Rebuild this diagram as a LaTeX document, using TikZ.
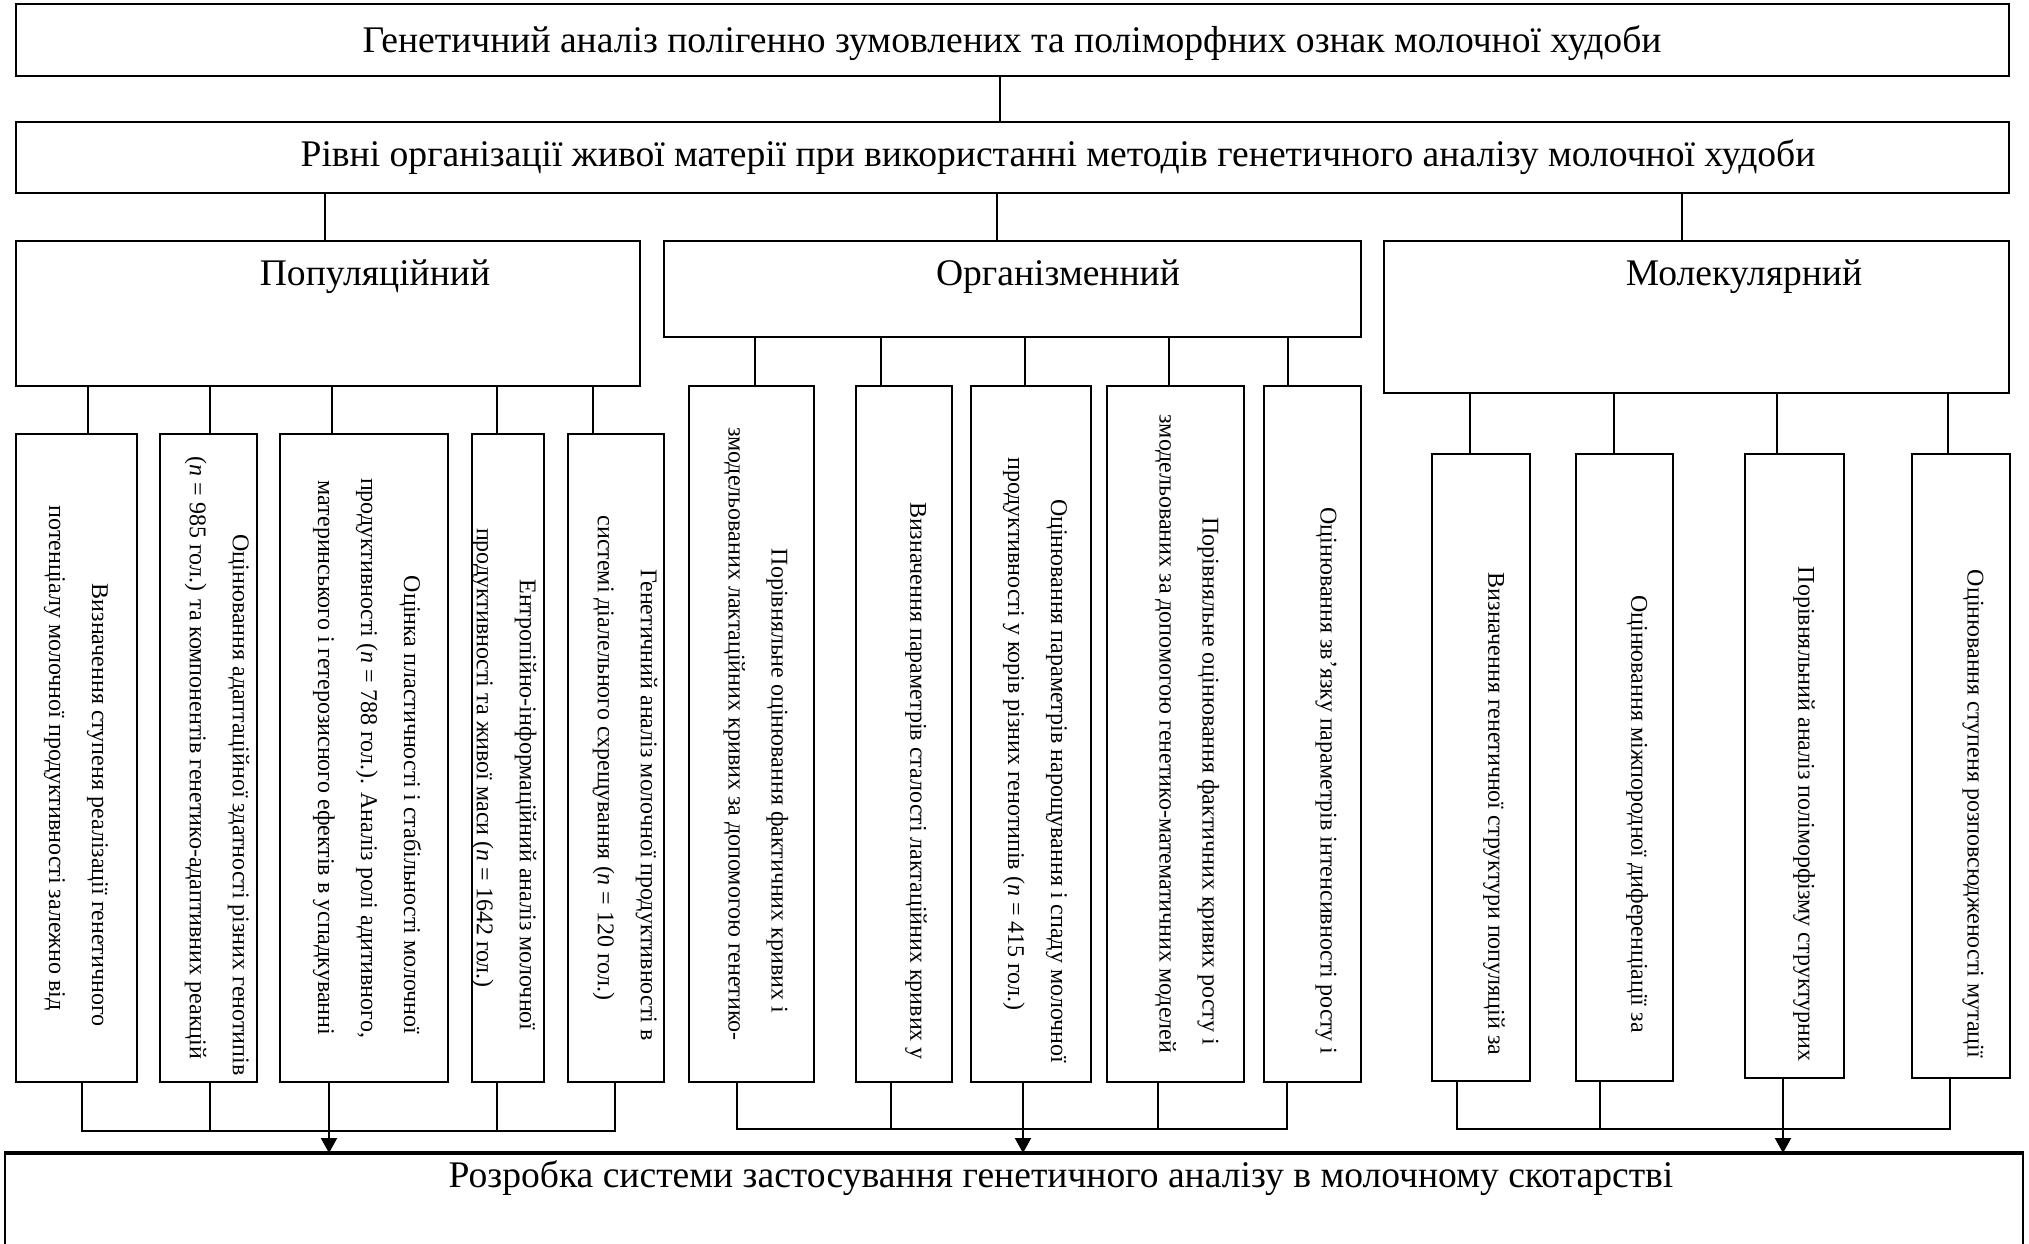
\documentclass[tikz,border=0pt]{standalone}
\usepackage{fontspec}
\setmainfont{Liberation Serif}
\usetikzlibrary{arrows.meta,fit}
\newcommand{\firstind}{\hspace*{47pt}}

\begin{document}
\begin{tikzpicture}[x=0.5pt,y=-0.5pt,
  box/.style={draw,line width=1pt,inner sep=0pt},
  head/.style={font=\fontsize{18.8}{22}\selectfont,inner sep=0pt},
  vtxt/.style={rotate=-90,align=center,inner sep=0pt,font=\fontsize{12}{21.5}\selectfont},
  link/.style={line width=0.6pt},
  >={Triangle[width=8pt,length=7.5pt]}]
\useasboundingbox (0,0) rectangle (2029,1243);
\clip (0,0) rectangle (2029,1243);
% upper levels
\node[box,fit={(16,4)(2009,76)}] (top) {};
\node[head] (toptxt) at (1012,43) {Генетичний аналіз полігенно зумовлених та поліморфних ознак молочної худоби};
\node[box,fit={(16,122)(2009,193)}] (mid) {};
\node[head] (midtxt) at (1058,157) {Рівні організації живої матерії при використанні методів генетичного аналізу молочної худоби};
\node[box,fit={(16,241)(640,386)}] (pop) {};
\node[head] (poptxt) at (375,277) {Популяційний};
\node[box,fit={(664,241)(1361,337)}] (org) {};
\node[head] (orgtxt) at (1058,277) {Організменний};
\node[box,fit={(1384,241)(2009,393)}] (mol) {};
\node[head] (moltxt) at (1744,277) {Молекулярний};
% populational methods
\node[box,fit={(16,434)(137,1082)}] (p1) {};
\node[vtxt] (p1txt) at (76,758) {\firstind Визначення ступеня реалізації генетичного\\ потенціалу молочної продуктивності залежно від};
\node[box,fit={(160,434)(257,1082)}] (p2) {};
\node[vtxt] (p2txt) at (217,758) {\firstind Оцінювання адаптаційної здатності різних генотипів\\ (\textit{n} = 985 гол.) та компонентів генетико-адаптивних реакцій};
\node[box,fit={(280,434)(448,1082)}] (p3) {};
\node[vtxt] (p3txt) at (367,758) {\firstind Оцінка пластичності і стабільності молочної\\ продуктивності (\textit{n} = 788 гол.). Аналіз ролі адитивного,\\ материнського і гетерозисного ефектів в успадкуванні};
\node[box,fit={(472,434)(544,1082)}] (p4) {};
\node[vtxt] (p4txt) at (504,758) {\firstind Ентропійно-інформаційний аналіз молочної\\ продуктивності та живої маси (\textit{n} = 1642 гол.)};
\node[box,fit={(568,434)(664,1082)}] (p5) {};
\node[vtxt] (p5txt) at (625,758) {\firstind Генетичний аналіз молочної продуктивності в\\ системі діалельного схрещування (\textit{n} = 120 гол.)};
% organismal methods
\node[box,fit={(689,386)(814,1082)}] (o1) {};
\node[vtxt] (o1txt) at (756,734) {\firstind Порівняльне оцінювання фактичних кривих і\\ змодельованих лактаційних кривих за допомогою генетико-};
\node[box,fit={(856,386)(952,1082)}] (o2) {};
\node[vtxt] (o2txt) at (916,734) {\firstind Визначення параметрів сталості лактаційних кривих у};
\node[box,fit={(971,386)(1091,1082)}] (o3) {};
\node[vtxt] (o3txt) at (1035,734) {\firstind Оцінювання параметрів нарощування і спаду молочної\\ продуктивності у корів різних генотипів (\textit{n} = 415 гол.)};
\node[box,fit={(1107,386)(1244,1082)}] (o4) {};
\node[vtxt] (o4txt) at (1187,734) {\firstind Порівняльне оцінювання фактичних кривих росту і\\ змодельованих за допомогою генетико-математичних моделей};
\node[box,fit={(1264,386)(1361,1082)}] (o5) {};
\node[vtxt] (o5txt) at (1326,734) {\firstind Оцінювання зв’язку параметрів інтенсивності росту і};
% molecular methods
\node[box,fit={(1432,454)(1530,1081)}] (m1) {};
\node[vtxt] (m1txt) at (1494,767) {\firstind Визначення генетичної структури популяцій за};
\node[box,fit={(1576,454)(1673,1081)}] (m2) {};
\node[vtxt] (m2txt) at (1637,767) {\firstind Оцінювання міжпородної диференціації за};
\node[box,fit={(1745,454)(1844,1078)}] (m3) {};
\node[vtxt] (m3txt) at (1804,767) {\firstind Порівняльний аналіз поліморфізму структурних};
\node[box,fit={(1912,454)(2010,1078)}] (m4) {};
\node[vtxt] (m4txt) at (1973,767) {\firstind Оцінювання ступеня розповсюдженості мутації};
% result
\node[box,fit={(5,1154)(2023,1270)}] (goal) {};
\draw[line width=1.6pt] (goal.north west) -- (goal.north east);
\node[head] (goaltxt) at (1061,1178) {Розробка системи застосування генетичного аналізу в молочному скотарстві};
% links downwards
\draw[link] (top.south -| 1000,0) -- (mid.north -| 1000,0)
  (mid.south -| 325,0) -- (pop.north -| 325,0)
  (mid.south -| 997,0) -- (org.north -| 997,0)
  (mid.south -| 1682,0) -- (mol.north -| 1682,0);
\draw[link] (pop.south -| 88,0) -- (p1.north -| 88,0)
  (pop.south -| 210,0) -- (p2.north -| 210,0)
  (pop.south -| 332,0) -- (p3.north -| 332,0)
  (pop.south -| 497,0) -- (p4.north -| 497,0)
  (pop.south -| 593,0) -- (p5.north -| 593,0);
\draw[link] (org.south -| 755,0) -- (o1.north -| 755,0)
  (org.south -| 881,0) -- (o2.north -| 881,0)
  (org.south -| 1025,0) -- (o3.north -| 1025,0)
  (org.south -| 1169,0) -- (o4.north -| 1169,0)
  (org.south -| 1288,0) -- (o5.north -| 1288,0);
\draw[link] (mol.south -| 1470,0) -- (m1.north -| 1470,0)
  (mol.south -| 1614,0) -- (m2.north -| 1614,0)
  (mol.south -| 1777,0) -- (m3.north -| 1777,0)
  (mol.south -| 1948,0) -- (m4.north -| 1948,0);
% collecting bars
\coordinate (pl) at (82,1131);
\coordinate (pr) at (615,1131);
\coordinate (ol) at (737,1129);
\coordinate (or) at (1287,1129);
\coordinate (ml) at (1457,1129);
\coordinate (mr) at (1950,1129);
\draw[link,line width=0.8pt] (p1.south -| pl) -- (pl) -- (pr) -- (p5.south -| pr)
  (p2.south -| 210,0) -- (pl -| 210,0)
  (p4.south -| 497,0) -- (pl -| 497,0);
\draw[link,line width=0.8pt] (o1.south -| ol) -- (ol) -- (or) -- (o5.south -| or)
  (o2.south -| 891,0) -- (ol -| 891,0)
  (o4.south -| 1158,0) -- (ol -| 1158,0);
\draw[link,line width=0.8pt] (m1.south -| ml) -- (ml) -- (mr) -- (m4.south -| mr)
  (m2.south -| 1600,0) -- (ml -| 1600,0);
\draw[->,line width=1pt] (p3.south -| 329,0) -- (goal.north -| 329,0);
\draw[->,line width=1pt] (o3.south -| 1023,0) -- (goal.north -| 1023,0);
\draw[->,line width=1pt] (m3.south -| 1783,0) -- (goal.north -| 1783,0);
\end{tikzpicture}
\end{document}
